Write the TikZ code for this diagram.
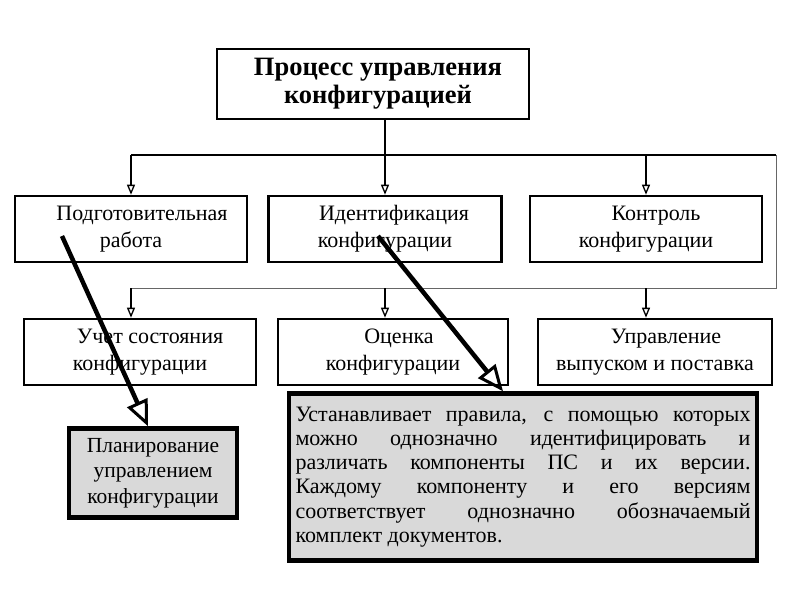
\documentclass[tikz,border=0pt]{standalone}
\usepackage{fontspec}
\setmainfont{Liberation Serif}
\usetikzlibrary{arrows.meta}

\begin{document}
\begin{tikzpicture}[x=1pt,y=-1pt,
    box/.style={draw,line width=2.6pt,align=center,inner sep=0pt,
      minimum height=66pt,font=\fontsize{22}{27}\selectfont},
    note/.style={draw,line width=4.5pt,fill=black!15,inner sep=0pt,
      font=\fontsize{22}{24.2}\selectfont},
    conn/.style={line width=1.3pt,-{Triangle[open,length=10pt,width=8pt]}},
    big/.style={line width=4.5pt,-{Triangle[open,length=26pt,width=22pt,line width=3pt]}}]
    \useasboundingbox (0,0) rectangle (800,600);
    % top
    \node[box,minimum width=312pt,minimum height=70pt,font=\bfseries\fontsize{26.5}{28}\selectfont]
      (title) at (373,84) {\hspace*{10pt}Процесс управления\\\hspace*{10pt}конфигурацией};
    % first row
    \node[box,minimum width=232pt] (prep) at (131,229) {\hspace*{22pt}Подготовительная\\работа};
    \node[box,minimum width=233pt] (ident) at (385,229) {\hspace*{18pt}Идентификация\\конфигурации};
    \node[box,minimum width=232pt] (contr) at (646,229) {\hspace*{20pt}Контроль\\конфигурации};
    % second row
    \node[box,minimum width=232pt] (acct) at (140,352) {\hspace*{20pt}Учет состояния\\конфигурации};
    \node[box,minimum width=230pt] (eval) at (393,352) {\hspace*{12pt}Оценка\\конфигурации};
    \node[box,minimum width=234pt] (rel) at (655,352) {\hspace*{22pt}Управление\\выпуском и поставка};
    % notes
    \node[note,minimum width=168pt,minimum height=89pt,align=center,
      font=\fontsize{21.5}{25.5}\selectfont] (plan) at (153,473)
      {Планирование\\управлением\\конфигурации};
    \node[note,minimum width=468pt,minimum height=167pt,text width=455pt,align=justify]
      (descr) at (523,477) {\hyphenpenalty=10000
      Устанавливает правила, с помощью которых\linebreak
      можно однозначно идентифицировать и\linebreak
      различать компоненты ПС и их версии.\linebreak
      Каждому компоненту и его версиям\linebreak
      соответствует однозначно обозначаемый\linebreak
      комплект документов.};
    % connectors
    \coordinate (b1) at (383,155);
    \coordinate (b2) at (776,288);
    \draw[conn] (ident.north |- title.south) -- (ident.north);
    \draw[line width=1.3pt] (prep.north |- b1) -- (b2 |- b1);
    \draw[black!60,line width=1pt] (b2 |- b1) -- (b2) -- (prep.north |- b2);
    \draw[conn] (prep.north |- b1) -- (prep.north);
    \draw[conn] (contr.north |- b1) -- (contr.north);
    \foreach \a/\b in {prep/acct,ident/eval,contr/rel}
      \draw[conn] (\a.north |- b2) -- (\a.north |- \b.north);
    % thick arrows
    \coordinate (s1) at (62,236);
    \coordinate (s2) at (378,236);
    \draw[big] (s1) -- ([xshift=-5pt]plan.north);
    \draw[big] (s2) -- ([xshift=-20pt]descr.north);
\end{tikzpicture}
\end{document}
